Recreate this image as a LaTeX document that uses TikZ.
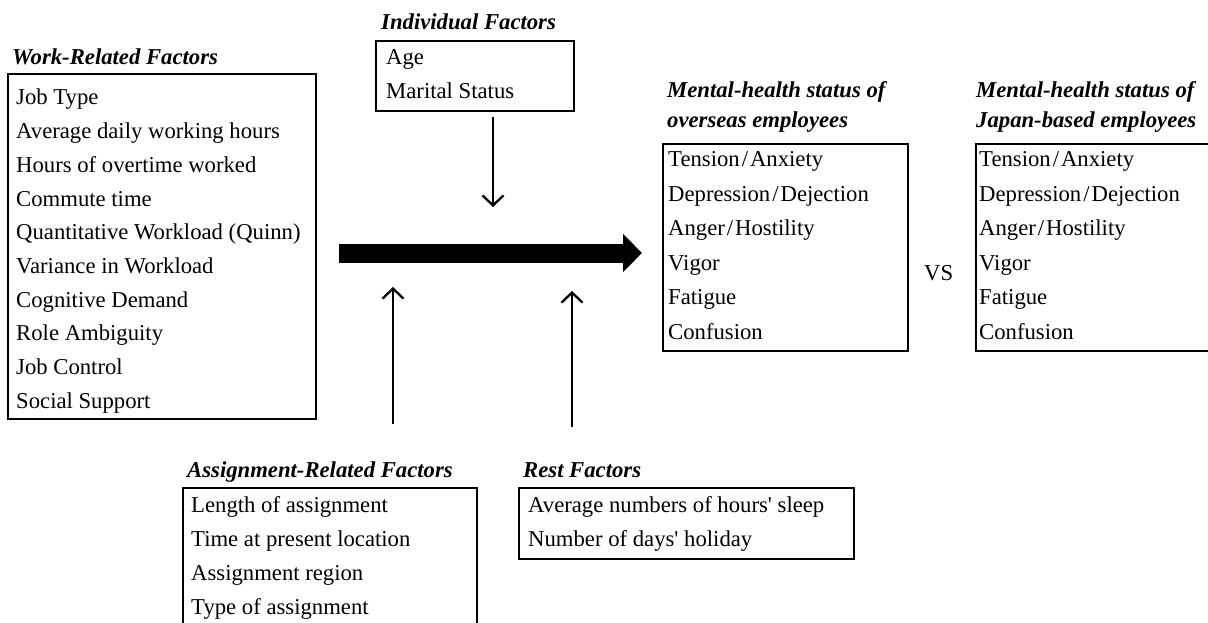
\documentclass[tikz,border=0pt]{standalone}
\usepackage{fontspec}
\setmainfont{Liberation Serif}
\usetikzlibrary{arrows.meta}
\newcommand\myslash{\kern2pt/\kern2pt}
\begin{document}
\begin{tikzpicture}[x=1pt,y=-1pt,
  txt/.style={anchor=base west,inner sep=0pt,font=\fontsize{22.7}{27}\selectfont},
  ttl/.style={anchor=base west,inner sep=0pt,font=\fontsize{22.7}{27}\selectfont\bfseries\itshape},
  boxx/.style={draw,line width=1.8pt,anchor=north west,inner sep=0pt},
  thinarrow/.style={line width=2.3pt,-{Straight Barb[length=10pt,width=21pt,line width=2.3pt]}},
  bigarrow/.style={line width=19pt,-{Triangle[length=19pt,width=37pt]}}
  ]
\useasboundingbox (0,0) rectangle (1208,623);
\clip (0,0) rectangle (1208,623);
% boxes
\node[boxx,minimum width=308pt,minimum height=345pt] (work) at (7,73) {};
\node[boxx,minimum width=198pt,minimum height=70pt] (ind) at (375,40) {};
\node[boxx,minimum width=245pt,minimum height=207pt] (over) at (662,143) {};
\node[boxx,minimum width=255pt,minimum height=207pt] (japan) at (975,143) {};
\node[boxx,minimum width=294pt,minimum height=163pt] (assign) at (182,487) {};
\node[boxx,minimum width=335pt,minimum height=71pt] (rest) at (518,487) {};
% titles
\node[ttl] (workT) at (12,65) {Work-Related Factors};
\node[ttl] (indT) at (381,30) {Individual Factors};
\node[ttl] (overT1) at (667,98) {Mental-health status of};
\node[ttl] (overT2) at (667,128) {overseas employees};
\node[ttl] (japT1) at (976,98) {Mental-health status of};
\node[ttl] (japT2) at (976,128) {Japan-based employees};
\node[ttl] (assignT) at (187,477) {Assignment-Related Factors};
\node[ttl] (restT) at (523,477) {Rest Factors};
% items
\foreach \t [count=\i from 0] in {Job Type,Average daily working hours,Hours of overtime worked,Commute time,Quantitative Workload (Quinn),Variance in Workload,Cognitive Demand,Role Ambiguity,Job Control,Social Support}
  \node[txt] (w\i) at (16,{105+33.7*\i}) {\t};
\foreach \t [count=\i from 0] in {Age,Marital Status}
  \node[txt] (i\i) at (386,{65+34*\i}) {\t};
\foreach \t [count=\i from 0] in {Tension\myslash Anxiety,Depression\myslash Dejection,Anger\myslash Hostility,Vigor,Fatigue,Confusion}
  {\node[txt] (o\i) at (668,{167+34.4*\i}) {\t};
   \node[txt] (j\i) at (979,{167+34.4*\i}) {\t};}
\foreach \t [count=\i from 0] in {Length of assignment,Time at present location,Assignment region,Type of assignment}
  \node[txt] (a\i) at (191,{512+34.3*\i}) {\t};
\node[txt] (r0) at (528,512) {Average numbers of hours\textquotesingle{} sleep};
\node[txt] (r1) at (528,546) {Number of days\textquotesingle{} holiday};
\node[txt] (vs) at (924,280) {VS};
% connectors
\coordinate (dA) at (493,117);
\coordinate (dB) at (493,207);
\coordinate (uA1) at (393,424);
\coordinate (uA2) at (393,287);
\coordinate (uB1) at (572,427);
\coordinate (uB2) at (572,291);
\coordinate (bigS) at (339,253);
\coordinate (bigE) at (642,253);
\draw[thinarrow] (dA) -- (dB);
\draw[thinarrow] (uA1) -- (uA2);
\draw[thinarrow] (uB1) -- (uB2);
\draw[bigarrow] (bigS) -- (bigE);
\end{tikzpicture}
\end{document}
